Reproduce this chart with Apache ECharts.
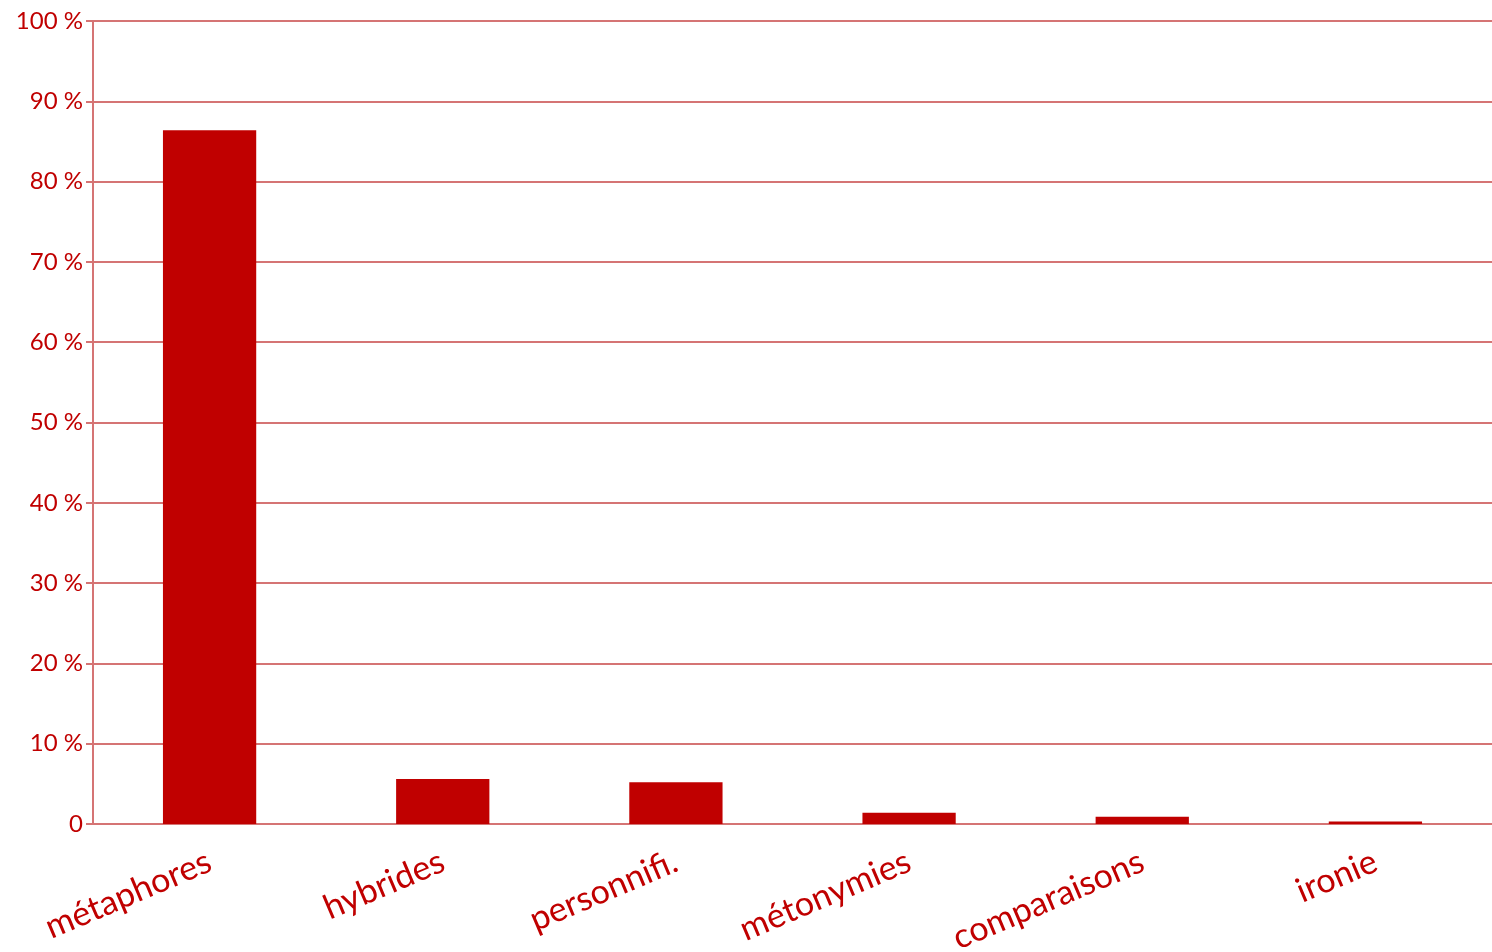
<!DOCTYPE html>
<html>
<head>
<meta charset="utf-8">
<script src="https://cdn.jsdelivr.net/npm/echarts@6/dist/echarts.min.js"></script>
<style>
  html, body { margin: 0; padding: 0; background: #ffffff; }
  #chart { width: 1492px; height: 952px; }
</style>
</head>
<body>
<div id="chart"></div>
<script>
// Figures de style : part de chaque type (en %)
const categories = ['métaphores', 'hybrides', 'personnifi.', 'métonymies', 'comparaisons', 'ironie'];
const shares = [86.4, 5.6, 5.2, 1.4, 0.9, 0.3];

const red = '#c00000';
const gridRed = '#d57474';
const font = 'Lato, "Open Sans", sans-serif';

const chart = echarts.init(document.getElementById('chart'));
chart.setOption({
  animation: false,
  grid: { left: 93, right: 0, top: 21, bottom: 128, containLabel: false, outerBoundsMode: 'none' },
  xAxis: {
    type: 'category',
    data: categories,
    axisLine: { show: true, lineStyle: { color: gridRed, width: 2 } },
    axisTick: { show: false },
    axisLabel: {
      rotate: 23,
      color: red,
      fontFamily: font,
      fontSize: 34,
      margin: 36,
      interval: 0
    }
  },
  yAxis: {
    type: 'value',
    min: 0,
    max: 100,
    interval: 10,
    axisLine: { show: true, lineStyle: { color: gridRed, width: 2 } },
    axisTick: { show: true, length: 7, lineStyle: { color: gridRed, width: 2 } },
    splitLine: { show: true, lineStyle: { color: gridRed, width: 2 } },
    axisLabel: {
      color: red,
      fontFamily: font,
      fontSize: 24,
      margin: 10,
      formatter: v => (v === 0 ? '0' : v + ' %')
    }
  },
  series: [{
    type: 'bar',
    data: shares,
    barWidth: '40%',
    itemStyle: { color: red },
    z: 3
  }]
});
</script>
</body>
</html>
